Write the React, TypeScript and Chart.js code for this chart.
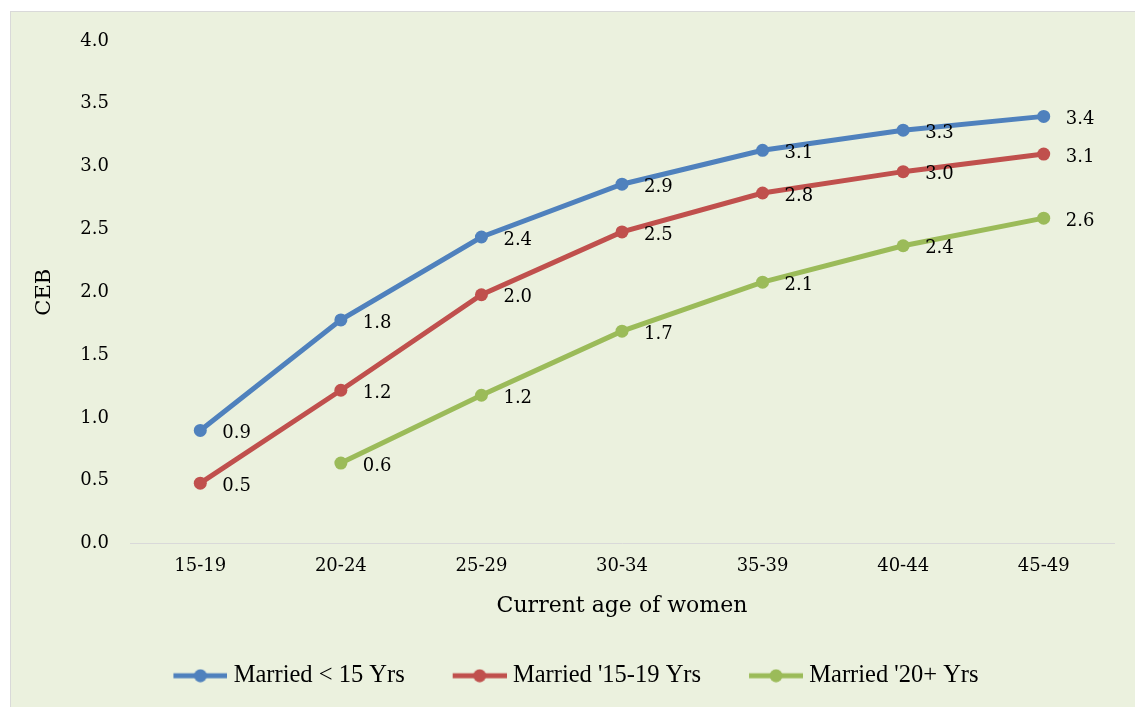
import React, { useEffect, useRef } from "react";
import { Chart, registerables } from "chart.js";

Chart.register(...registerables);

const categories = ["15-19", "20-24", "25-29", "30-34", "35-39", "40-44", "45-49"];
const seriesNames = ["Married < 15 Yrs", "Married '15-19 Yrs", "Married '20+ Yrs"];
const marriedUnder15 = [0.9, 1.78, 2.44, 2.86, 3.13, 3.29, 3.4];
const married15to19 = [0.48, 1.22, 1.98, 2.48, 2.79, 2.96, 3.1];
const married20plus = [null, 0.64, 1.18, 1.69, 2.08, 2.37, 2.59];
const yTicks = [0, 0.5, 1, 1.5, 2, 2.5, 3, 3.5, 4];
const colors = ["#4F81BD", "#C0504D", "#9BBB59"];

const FONT = "'DejaVu Serif', serif";

function legendImage(color: string) {
  const B = 86;
  const c = document.createElement("canvas");
  c.width = B + 12;
  c.height = 14;
  const ctx = c.getContext("2d")!;
  const end = c.width;
  const start = end - 54;
  ctx.strokeStyle = color;
  ctx.lineWidth = 5;
  ctx.beginPath();
  ctx.moveTo(start, 7);
  ctx.lineTo(end, 7);
  ctx.stroke();
  ctx.fillStyle = color;
  ctx.beginPath();
  ctx.arc((start + end) / 2, 7, 6.5, 0, Math.PI * 2);
  ctx.fill();
  return c;
}

const backgroundPlugin = {
  id: "bg",
  beforeDraw(chart: any) {
    const ctx = chart.ctx;
    ctx.save();
    ctx.fillStyle = "#ffffff";
    ctx.fillRect(0, 0, chart.width, chart.height);
    ctx.fillStyle = "#EBF1DE";
    ctx.fillRect(11, 12, chart.width - 11, chart.height - 12);
    ctx.fillStyle = "#D9D9D9";
    ctx.fillRect(10, 11, chart.width - 10, 1);
    ctx.fillRect(10, 11, 1, chart.height - 11);
    ctx.restore();
  },
};

const dataLabelPlugin = {
  id: "dataLabels",
  afterDatasetsDraw(chart: any) {
    const ctx = chart.ctx;
    ctx.save();
    ctx.font = `18px ${FONT}`;
    ctx.fillStyle = "#000000";
    ctx.textAlign = "left";
    ctx.textBaseline = "middle";
    chart.data.datasets.forEach((ds: any, i: number) => {
      const meta = chart.getDatasetMeta(i);
      meta.data.forEach((pt: any, j: number) => {
        const v = ds.data[j];
        if (v === null || v === undefined) return;
        ctx.fillText(Number(v).toFixed(1), pt.x + 22, pt.y + 3);
      });
    });
    ctx.restore();
  },
};

export default function App() {
  const ref = useRef<HTMLCanvasElement>(null);
  useEffect(() => {
    const series = [marriedUnder15, married15to19, married20plus];
    const images = colors.map((c) => legendImage(c));
    const chart = new Chart(ref.current!, {
      type: "line",
      data: {
        labels: categories,
        datasets: series.map((d, i) => ({
          label: seriesNames[i],
          data: d,
          borderColor: colors[i],
          backgroundColor: colors[i],
          borderWidth: 5,
          pointRadius: 6.5,
          pointHoverRadius: 6.5,
          pointBorderWidth: 0,
          pointBackgroundColor: colors[i],
          tension: 0,
          fill: false,
        })),
      },
      options: {
        responsive: false,
        animation: false,
        devicePixelRatio: 1,
        layout: { padding: { left: 0, right: 21, top: 41, bottom: 9 } },
        plugins: {
          tooltip: { enabled: false },
          legend: {
            position: "bottom",
            labels: {
              usePointStyle: true,
              pointStyleWidth: 86,
              padding: 10,
              color: "#000000",
              font: { family: "'Liberation Serif', serif", size: 24.5 },
              generateLabels: (chart: any) =>
                chart.data.datasets.map((ds: any, i: number) => ({
                  text: ds.label,
                  pointStyle: images[i],
                  fillStyle: colors[i],
                  strokeStyle: colors[i],
                  lineWidth: 0,
                  hidden: false,
                  datasetIndex: i,
                })),
            },
          },
        },
        scales: {
          x: {
            offset: true,
            grid: { display: false, drawTicks: false },
            border: { display: true, color: "#D9D9D9", width: 1 },
            ticks: { color: "#000000", font: { family: FONT, size: 18 }, padding: 12 },
            title: {
              display: true,
              text: "Current age of women",
              color: "#000000",
              font: { family: FONT, size: 22 },
              padding: { top: 0, bottom: 34 },
            },
            afterFit: (s: any) => {
              s.height = 110;
            },
          },
          y: {
            min: 0,
            max: 4,
            afterBuildTicks: (s: any) => {
              s.ticks = yTicks.map((v) => ({ value: v }));
            },
            grid: { display: false, drawTicks: false },
            border: { display: false },
            ticks: {
              color: "#000000",
              font: { family: FONT, size: 18 },
              padding: 21,
              callback: (v: any) => Number(v).toFixed(1),
            },
            title: {
              display: true,
              text: "CEB",
              color: "#000000",
              font: { family: FONT, size: 21 },
              padding: { top: 32, bottom: 0 },
            },
            afterFit: (s: any) => {
              s.width = 130;
            },
          },
        },
      },
      plugins: [backgroundPlugin, dataLabelPlugin],
    });
    return () => chart.destroy();
  }, []);
  return (
    <div style={{ position: "absolute", left: 0, top: 0, width: 1135, height: 707 }}>
      <canvas ref={ref} width={1135} height={707} />
    </div>
  );
}
